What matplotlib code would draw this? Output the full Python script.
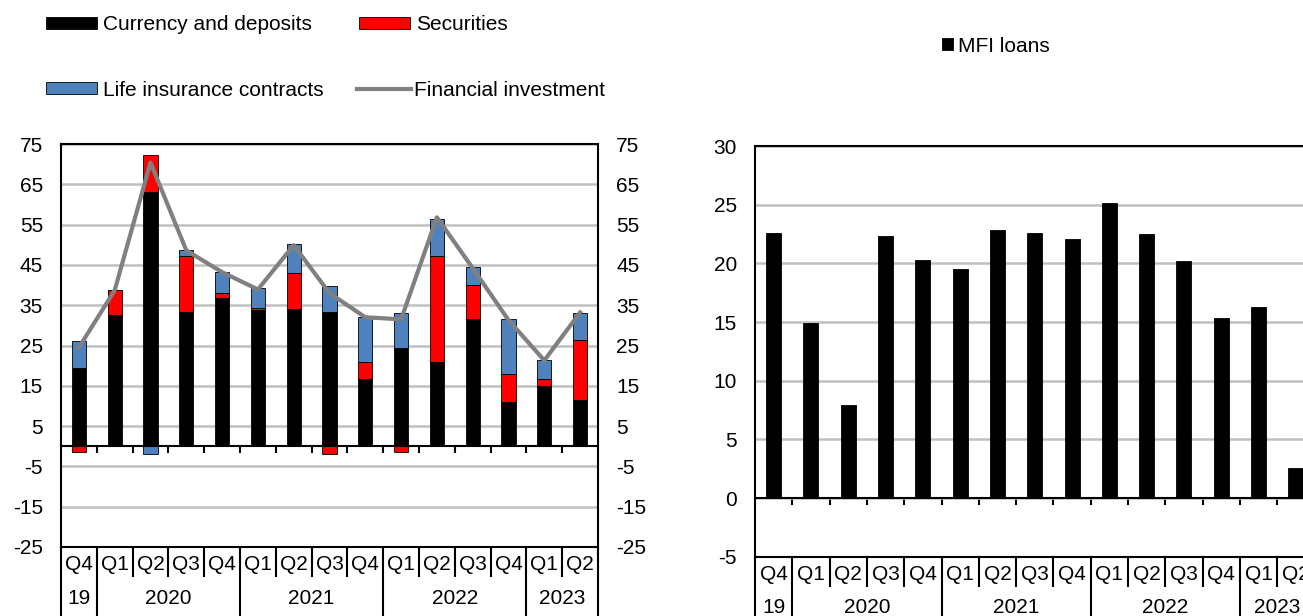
import matplotlib
matplotlib.use('Agg')
import matplotlib.pyplot as plt
from matplotlib.patches import Patch
from matplotlib.lines import Line2D
import numpy as np

plt.rcParams['font.family'] = ['Liberation Sans', 'DejaVu Sans']
plt.rcParams['font.size'] = 15
plt.rcParams['axes.unicode_minus'] = False

# ---------------- data ----------------
quarters = ['Q4', 'Q1', 'Q2', 'Q3', 'Q4', 'Q1', 'Q2', 'Q3', 'Q4', 'Q1', 'Q2', 'Q3', 'Q4', 'Q1', 'Q2']
years = ['19', '2020', '2021', '2022', '2023']
year_first = [0, 1, 5, 9, 13]
year_last = [0, 4, 8, 12, 14]

currency = [19.4, 32.5, 63.2, 33.4, 36.8, 33.9, 34.0, 33.4, 16.6, 24.3, 20.9, 31.5, 11.0, 15.0, 11.6]
securities = [-1.5, 6.2, 9.1, 13.8, 1.3, 0.5, 8.9, -1.8, 4.3, -1.5, 26.4, 8.6, 7.0, 1.6, 14.7]
life_insurance = [6.7, 0.0, -2.0, 1.5, 5.2, 4.8, 7.2, 6.4, 11.2, 8.8, 9.2, 4.3, 13.5, 4.8, 6.8]
financial_investment = [24.5, 38.7, 70.4, 48.6, 43.2, 38.9, 49.9, 38.0, 32.0, 31.5, 56.8, 44.2, 31.3, 21.3, 33.2]

mfi_loans = [22.6, 14.9, 7.9, 22.3, 20.3, 19.5, 22.8, 22.6, 22.1, 25.1, 22.5, 20.2, 15.3, 16.3, 2.6]

left_yticks = [75, 65, 55, 45, 35, 25, 15, 5, -5, -15, -25]
right_yticks = [30, 25, 20, 15, 10, 5, 0, -5]

BLACK = '#000000'
RED = '#FF0000'
BLUE = '#4F81BD'
GREY = '#808080'
GRID = '#C0C0C0'

# ---------------- figure ----------------
W, H = 1303, 616
fig = plt.figure(figsize=(W / 100, H / 100), dpi=100)


def fx(px):
    return px / W


def fy(py):
    return 1 - py / H


L_TOP, L_BOT = 144, 547
R_TOP, R_BOT = 146, 556.7
ax1 = fig.add_axes([fx(61), fy(L_BOT), fx(598 - 61), (L_BOT - L_TOP) / H])
ax2 = fig.add_axes([fx(755), fy(R_BOT), fx(15 * 37.3), (R_BOT - R_TOP) / H])

x = np.arange(len(quarters))


def style(ax, ylim, yticks, labelright):
    ax.set_xlim(-0.5, len(quarters) - 0.5)
    ax.set_ylim(*ylim)
    ax.set_yticks(yticks)
    ax.set_axisbelow(True)
    ax.grid(axis='y', color=GRID, lw=1.8)
    for s in ax.spines.values():
        s.set_linewidth(1.5)
        s.set_color('black')
    ax.spines['bottom'].set_position(('data', 0))
    ax.spines['bottom'].set_zorder(5)
    ax.set_xticks(np.arange(0.5, len(quarters) - 1, 1))
    ax.set_xticklabels([])
    ax.tick_params(axis='x', direction='out', length=5, width=1.5, color='black')
    ax.tick_params(axis='y', length=0, pad=13, labelright=labelright)
    ax.axhline(ylim[0], color='black', lw=1.5, clip_on=False, zorder=6)


def categories(ax, ax_h_px, qrow=30, qtext=18, ytext=51, bottom=90):
    trans = ax.get_xaxis_transform()
    n = len(quarters)
    for i, q in enumerate(quarters):
        ax.text(i, -qtext / ax_h_px, q, transform=trans, ha='center', va='center', clip_on=False)
    for b in np.arange(-0.5, n, 1):
        ax.plot([b, b], [0, -qrow / ax_h_px], transform=trans, color='black', lw=1.5,
                clip_on=False, solid_capstyle='butt')
    bounds = sorted(set([f - 0.5 for f in year_first] + [year_last[-1] + 0.5]))
    for b in bounds:
        ax.plot([b, b], [-qrow / ax_h_px, -bottom / ax_h_px], transform=trans, color='black',
                lw=1.5, clip_on=False, solid_capstyle='butt')
    for y, f, l in zip(years, year_first, year_last):
        ax.text((f + l) / 2, -ytext / ax_h_px, y, transform=trans, ha='center', va='center',
                clip_on=False)


# ---------------- left chart ----------------
style(ax1, (-25, 75), left_yticks, True)
pos = np.zeros(len(x))
neg = np.zeros(len(x))
for vals, col in [(currency, BLACK), (securities, RED), (life_insurance, BLUE)]:
    v = np.array(vals)
    base = np.where(v >= 0, pos, neg)
    ax1.bar(x, v, 0.4, bottom=base, color=col, edgecolor='black', linewidth=0.6, zorder=2)
    pos += np.where(v > 0, v, 0)
    neg += np.where(v < 0, v, 0)
ax1.plot(x, financial_investment, color=GREY, lw=3, zorder=3)
categories(ax1, L_BOT - L_TOP)

# ---------------- right chart ----------------
style(ax2, (-5, 30), right_yticks, False)
ax2.bar(x, mfi_loans, 0.4, color=BLACK, edgecolor='black', linewidth=0.6, zorder=2)
categories(ax2, R_BOT - R_TOP)

# ---------------- legends ----------------
def single_legend(handle, label, px, py, hl, hh, pad):
    leg = fig.legend([handle], [label], loc='center left', bbox_to_anchor=(fx(px), fy(py)),
                     frameon=False, borderpad=0, borderaxespad=0, handlelength=hl,
                     handleheight=hh, handletextpad=pad, fontsize=15)
    return leg


single_legend(Patch(facecolor=BLACK, edgecolor='black', lw=0.6), 'Currency and deposits', 46, 25, 2.45, 0.5, 0.3)
single_legend(Patch(facecolor=RED, edgecolor='black', lw=0.6), 'Securities', 359, 25, 2.45, 0.5, 0.3)
single_legend(Patch(facecolor=BLUE, edgecolor='black', lw=0.6), 'Life insurance contracts', 46, 90, 2.45, 0.5, 0.3)
single_legend(Line2D([], [], color=GREY, lw=3), 'Financial investment', 357, 90, 2.6, 0.5, 0.15)
single_legend(Patch(facecolor=BLACK, edgecolor='black', lw=0.6), 'MFI loans', 942, 46, 0.55, 0.55, 0.2)

fig.savefig('out.png', dpi=100)
